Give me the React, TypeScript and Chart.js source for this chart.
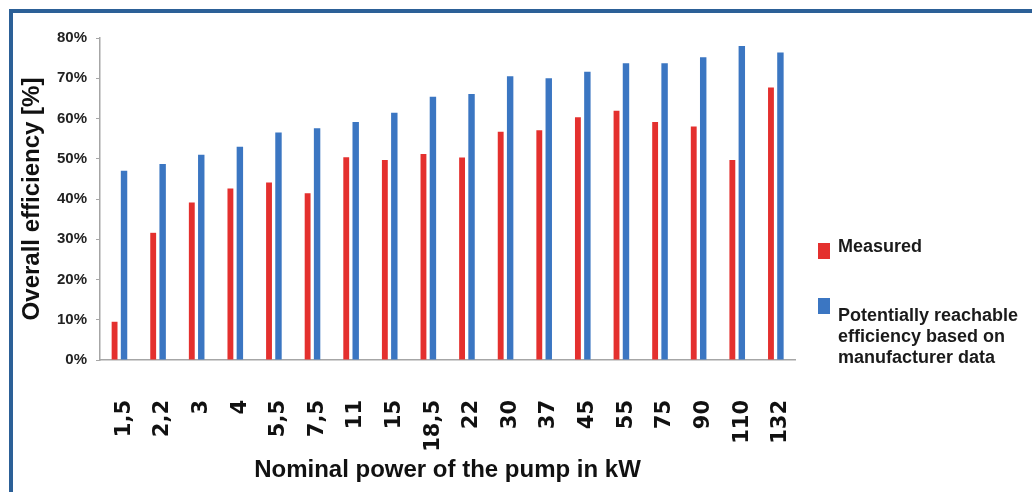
import React, { useEffect, useRef } from "react";
import { Chart, registerables } from "chart.js";

Chart.register(...registerables);

const categories = ["1,5", "2,2", "3", "4", "5,5", "7,5", "11", "15", "18,5", "22", "30", "37", "45", "55", "75", "90", "110", "132"];
const measured = [9.5, 31.6, 39.1, 42.6, 44.1, 41.4, 50.4, 49.7, 51.2, 50.3, 56.7, 57.1, 60.3, 61.9, 59.1, 58.0, 49.7, 67.7];
const potential = [47.0, 48.7, 51.0, 53.0, 56.5, 57.6, 59.1, 61.4, 65.4, 66.1, 70.5, 70.0, 71.6, 73.7, 73.7, 75.2, 78.0, 76.4];
const seriesNames = ["Measured", "Potentially reachable efficiency based on manufacturer data"];
const yTitle = "Overall efficiency [%]";
const xTitle = "Nominal power of the pump in kW";

const RED = "#e4302e";
const BLUE = "#3b76c2";
const FRAME = "#2c6097";

export default function App() {
  const ref = useRef<HTMLCanvasElement | null>(null);

  useEffect(() => {
    const canvas = ref.current;
    if (!canvas) return;
    const chart = new Chart(canvas, {
      type: "bar",
      data: {
        labels: categories,
        datasets: [
          { label: seriesNames[0], data: measured, backgroundColor: RED, categoryPercentage: 0.49, barPercentage: 0.62 },
          { label: seriesNames[1], data: potential, backgroundColor: BLUE, categoryPercentage: 0.49, barPercentage: 0.68 },
        ],
      },
      options: {
        animation: false,
        responsive: false,
        layout: { padding: { left: 10, top: 38, right: 237, bottom: 0 } },
        plugins: { legend: { display: false }, tooltip: { enabled: false } },
        scales: {
          x: {
            afterFit: (s: any) => { s.height = 132; },
            grid: { display: false },
            border: { display: true, color: "#a6a6a6", width: 1.5 },
            ticks: {
              minRotation: 90,
              maxRotation: 90,
              padding: 32,
              labelOffset: 5,
              color: "#111",
              font: { family: "DejaVu Sans", weight: "bold", size: 21 },
              autoSkip: false,
            },
            title: {
              display: true,
              text: xTitle,
              color: "#111",
              font: { family: "Liberation Sans, Arial", weight: "bold", size: 24 },
              padding: { top: 0, bottom: 7 },
            },
          },
          y: {
            min: 0,
            max: 80,
            afterFit: (s: any) => { s.width = 90; },
            grid: { drawOnChartArea: false, drawTicks: true, tickLength: 4, color: "#a6a6a6" },
            border: { display: true, color: "#a6a6a6", width: 1.5 },
            ticks: {
              stepSize: 10,
              padding: 9,
              color: "#222",
              font: { family: "Liberation Sans, Arial", weight: "bold", size: 15 },
              callback: (v: any) => v + "%",
            },
            title: {
              display: true,
              text: yTitle,
              color: "#111",
              font: { family: "Liberation Sans, Arial", weight: "bold", size: 24 },
              padding: { top: 8, bottom: 0 },
            },
          },
        },
      },
    });
    return () => chart.destroy();
  }, []);

  const legendText: React.CSSProperties = {
    position: "absolute",
    fontFamily: "Liberation Sans, Arial, sans-serif",
    fontWeight: "bold",
    fontSize: 18,
    lineHeight: "21px",
    color: "#1a1a1a",
    whiteSpace: "nowrap",
  };

  return (
    <div style={{ position: "fixed", left: 0, top: 0, width: 1032, height: 492, overflow: "hidden", background: "#fff" }}>
      <div style={{ position: "absolute", left: 9, top: 9, width: 1100, height: 600, borderTop: `4px solid ${FRAME}`, borderLeft: `4px solid ${FRAME}` }} />
      <canvas ref={ref} width={1032} height={492} style={{ position: "absolute", left: 0, top: 0, width: 1032, height: 492 }} />
      <div style={{ position: "absolute", left: 818, top: 243, width: 12, height: 16, background: RED }} />
      <div style={{ ...legendText, left: 838, top: 236 }}>{seriesNames[0]}</div>
      <div style={{ position: "absolute", left: 818, top: 298, width: 12, height: 16, background: BLUE }} />
      <div style={{ ...legendText, left: 838, top: 305 }}>
        Potentially reachable<br />efficiency based on<br />manufacturer data
      </div>
    </div>
  );
}
